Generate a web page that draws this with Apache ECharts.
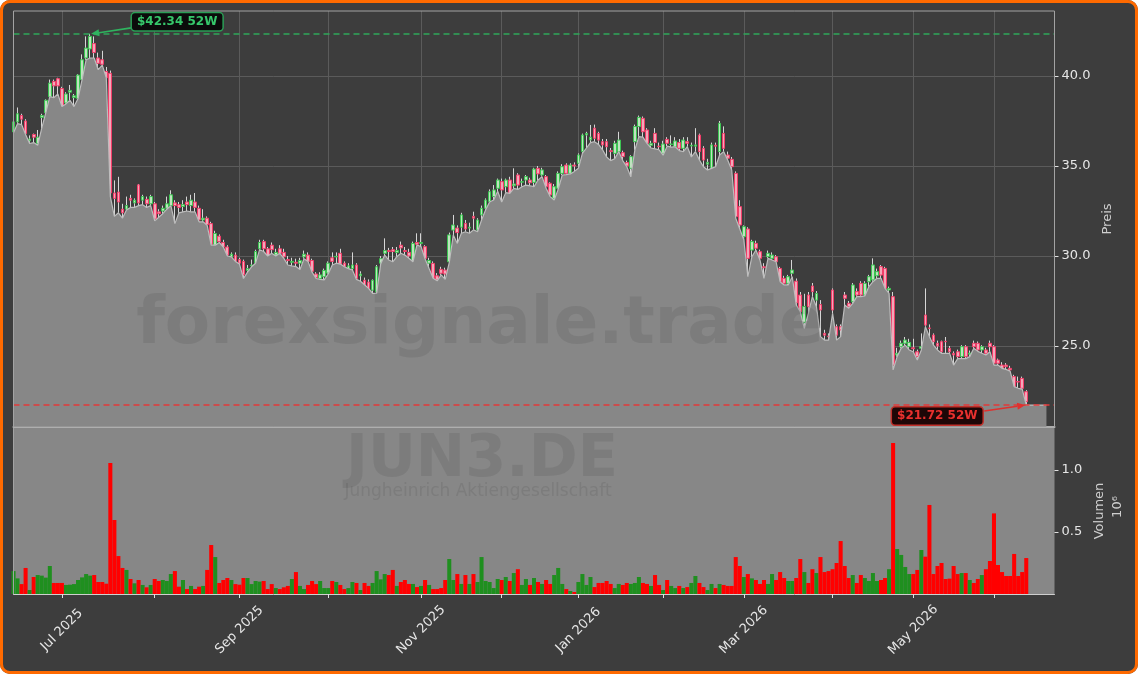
<!DOCTYPE html>
<html><head><meta charset="utf-8">
<script src="https://cdn.jsdelivr.net/npm/echarts@6/dist/echarts.min.js"></script>
<style>
html,body{margin:0;padding:0;background:#ffffff;}
#chart{position:absolute;left:0;top:0;width:1138px;height:674px;background:#3d3d3d;border-radius:10px;overflow:hidden;}
#frame{position:absolute;left:0;top:0;width:1138px;height:674px;box-sizing:border-box;border:3px solid #ff6a00;border-radius:10px;pointer-events:none;}
</style></head><body>
<div id="chart"></div><div id="frame"></div>
<script>
// ---- data ----
const opens = [36.9,37.45,37.8,37.5,36.4,36.75,36.25,37.7,37.95,38.85,
39.7,39.85,39.3,38.5,39.1,38.8,38.75,39.8,41.0,41.5,
41.8,41.0,40.9,40.25,40.15,33.5,33.55,32.6,32.6,33.2,
32.95,33.95,33.1,33.15,32.9,32.9,32.45,32.5,32.65,32.8,
32.95,32.85,32.75,33.0,32.8,33.0,32.65,32.0,32.1,31.8,
30.6,31.1,30.75,30.5,29.95,30.05,29.8,29.7,29.2,29.45,
29.6,30.4,30.8,30.4,30.6,30.05,30.4,30.2,29.8,29.65,
29.65,29.6,29.95,30.05,29.75,29.0,28.75,28.85,29.05,29.9,
29.95,30.15,29.6,29.3,29.3,29.5,28.9,28.65,28.55,28.1,
28.0,29.6,30.15,30.3,30.35,30.2,30.6,30.3,30.2,29.7,
30.75,30.7,30.52,29.6,29.59,28.9,29.26,29.22,29.68,31.44,
31.55,31.6,31.81,31.55,32.2,31.44,32.28,32.65,33.02,33.3,
33.76,34.13,33.85,34.22,33.9,34.5,34.1,34.22,34.22,34.09,
34.87,34.5,34.41,34.04,33.2,33.76,34.59,35.05,34.59,35.05,
35.15,35.8,36.72,36.45,37.1,36.81,36.35,36.35,35.85,35.7,
35.8,35.74,35.19,34.87,36.35,37.19,37.65,37.0,36.15,36.81,
36.1,35.7,36.48,36.2,36.07,36.3,35.98,36.35,36.11,36.1,
36.72,35.98,35.1,34.87,36.15,35.8,36.81,35.61,35.37,34.59,
32.74,31.07,31.5,30.33,30.7,30.24,29.4,29.96,29.87,29.96,
29.31,28.76,28.48,29.04,28.6,27.83,26.3,27.83,28.33,27.55,
27.3,25.7,25.55,28.11,26.07,26.07,27.83,27.37,27.46,28.02,
28.48,27.83,28.57,28.67,28.9,29.41,29.31,28.11,27.74,24.5,
24.96,25.15,24.96,24.9,24.68,24.87,26.72,26.0,25.61,25.15,
25.24,25.26,24.87,24.59,24.68,24.41,24.96,24.55,25.15,25.15,
24.78,24.78,25.15,24.96,24.22,23.94,23.94,23.76,23.3,23.02,
23.2,22.46];
const closes = [37.45,37.9,37.6,36.8,36.5,36.6,36.6,37.8,38.65,39.6,
39.45,39.45,38.3,39.0,39.2,38.9,40.05,40.9,41.55,42.2,
41.3,40.7,40.65,39.9,33.5,33.2,33.0,32.4,32.8,33.1,
33.1,32.95,33.3,32.9,33.3,32.05,32.35,32.65,32.9,33.4,
32.8,32.7,32.85,32.85,33.1,32.7,32.0,32.1,31.75,30.65,
31.25,30.8,30.5,30.05,30.1,29.7,29.6,28.95,29.3,29.5,
30.25,30.75,30.4,30.0,30.35,30.2,30.15,29.95,29.75,29.7,
29.6,29.75,30.1,29.7,29.15,28.8,28.95,29.2,29.6,29.7,
29.98,29.55,29.4,29.45,29.5,28.75,29.0,28.4,28.2,28.65,
29.4,29.85,30.3,30.25,30.25,30.3,30.45,30.25,30.0,30.7,
30.65,30.75,29.87,29.75,28.76,28.67,29.04,29.0,31.17,31.72,
31.3,32.28,31.5,31.6,32.1,32.0,32.65,33.11,33.57,33.67,
34.22,33.67,34.22,33.48,34.0,33.94,34.13,34.41,34.07,34.83,
34.56,34.78,33.85,33.39,33.85,34.59,34.96,34.59,35.05,35.0,
35.61,36.72,36.81,36.6,36.54,36.44,36.17,36.07,35.8,36.26,
36.44,35.52,35.0,35.52,37.19,37.7,36.9,36.26,36.26,36.3,
36.07,36.22,36.26,36.22,36.39,35.98,36.44,36.26,36.15,36.17,
35.8,35.33,35.2,36.17,36.1,37.37,35.98,35.43,34.96,32.19,
31.72,31.63,29.87,30.8,30.43,29.87,29.35,30.15,30.05,29.68,
28.57,28.48,28.85,29.22,27.4,26.9,27.2,27.18,28.02,27.92,
27.0,25.6,25.52,27.0,25.6,25.89,27.65,27.18,28.39,27.83,
27.83,28.48,28.85,29.5,29.13,28.94,28.2,28.2,23.94,24.59,
25.15,25.33,25.2,24.85,24.41,24.96,26.16,25.98,25.24,25.0,
24.68,25.24,24.68,24.5,24.41,24.96,24.41,24.6,24.96,24.78,
24.96,24.59,24.96,24.04,24.04,23.76,23.85,23.67,22.74,23.0,
22.65,21.91];
const lows = [36.85,37.35,37.3,36.75,36.25,36.3,36.15,37.1,37.95,38.85,
38.8,39.0,38.3,38.45,38.65,38.3,38.75,39.8,40.9,41.0,
41.0,40.35,40.6,39.9,33.3,32.2,32.4,32.1,32.55,32.7,
32.7,32.8,32.85,32.7,32.8,31.95,32.15,32.35,32.6,32.8,
31.8,32.4,32.45,32.5,32.45,32.45,31.9,31.9,31.7,30.6,
30.6,30.75,30.5,30.0,29.95,29.7,29.55,28.75,29.1,29.4,
29.6,30.35,30.25,30.0,30.15,30.0,30.15,29.87,29.5,29.45,
29.41,29.25,29.85,29.7,29.1,28.75,28.7,28.67,29.0,29.5,
29.6,29.55,29.4,29.3,29.22,28.7,28.6,28.4,28.2,27.92,
27.92,29.55,30.05,29.78,29.68,29.96,30.15,30.05,29.87,29.68,
30.61,30.52,29.85,29.3,28.76,28.62,28.95,28.7,29.63,31.17,
30.7,31.26,31.35,31.26,31.45,31.35,32.0,32.55,33.0,33.11,
33.6,33.0,33.52,33.48,33.76,33.7,33.85,33.94,33.9,33.85,
34.22,34.41,33.76,33.3,33.11,33.7,34.5,34.52,34.56,34.7,
34.87,35.7,36.0,36.3,36.35,36.2,35.9,35.5,35.3,35.4,
35.8,35.3,34.96,34.4,35.9,36.63,36.6,36.26,36.0,35.95,
35.9,35.6,36.1,36.05,36.07,35.85,35.8,36.07,35.5,35.8,
35.33,34.96,34.78,34.87,34.96,35.61,35.8,35.33,34.78,32.1,
31.5,30.9,28.85,29.96,30.33,29.78,28.76,29.87,29.78,29.68,
28.57,28.39,28.39,28.85,27.28,26.9,25.98,26.81,27.74,27.18,
25.52,25.33,25.33,26.81,25.33,25.52,27.28,27.1,27.37,27.74,
27.74,27.78,28.3,28.57,28.76,28.76,28.2,27.92,23.67,24.41,
24.87,25.05,24.78,24.68,24.22,24.78,26.07,25.52,25.05,24.78,
24.59,24.59,24.59,23.94,24.3,24.3,24.3,24.41,24.87,24.7,
24.6,24.5,24.68,23.94,23.94,23.76,23.7,23.6,22.74,22.65,
22.6,21.72];
const highs = [37.6,38.25,37.9,37.6,36.7,36.8,37.0,37.9,38.7,39.8,
39.8,39.9,39.4,39.1,39.5,39.0,40.1,41.2,42.2,42.34,
42.2,41.3,41.4,40.5,40.3,34.2,34.4,32.9,33.3,33.4,
33.2,34.0,33.4,33.3,33.4,33.0,32.6,32.8,33.3,33.65,
33.1,33.0,33.1,33.3,33.4,33.5,32.8,32.6,32.2,31.9,
31.4,31.2,30.9,30.6,30.2,30.2,29.9,29.8,29.5,29.8,
30.35,30.9,30.9,30.5,30.75,30.4,30.6,30.4,30.0,29.9,
29.85,29.9,30.3,30.2,29.85,29.1,29.1,29.3,29.7,30.2,
30.2,30.4,29.7,29.6,30.2,29.6,29.15,28.8,28.7,28.7,
29.5,30.0,30.98,30.45,30.5,30.5,30.8,30.5,30.4,30.8,
31.26,31.26,30.6,29.9,29.7,29.05,29.4,29.35,31.3,32.28,
31.7,32.4,32.0,31.85,32.46,32.1,32.8,33.2,33.7,33.94,
34.3,34.3,34.3,34.4,34.87,34.6,34.3,34.5,34.35,34.9,
35.0,34.9,34.5,34.1,34.0,34.7,35.1,35.15,35.15,35.2,
35.7,36.8,36.9,37.28,37.3,36.9,36.5,36.5,36.0,36.4,
36.9,35.85,35.3,35.6,37.3,37.8,37.75,37.1,36.4,37.1,
36.3,36.4,36.6,36.7,36.6,36.5,36.6,36.6,36.3,37.1,
36.8,36.1,35.4,36.3,36.3,37.5,37.2,35.8,35.5,34.7,
33.1,31.7,31.6,30.9,30.85,30.35,29.6,30.3,30.2,30.05,
29.4,28.9,28.95,29.78,28.75,28.0,27.9,28.0,28.5,28.05,
27.55,25.9,25.7,28.2,26.2,26.2,28.0,27.5,28.5,28.2,
28.6,28.6,28.95,29.87,29.3,29.5,29.4,28.3,28.0,24.9,
25.3,25.5,25.4,25.4,24.8,25.7,28.2,26.2,25.7,25.3,
25.3,25.5,25.0,24.7,24.8,25.05,25.05,24.75,25.3,25.25,
25.05,24.9,25.3,25.05,24.3,24.1,24.05,23.9,23.4,23.3,
23.3,22.55];
const volumes = [185000,126000,80000,210000,32000,137000,153000,148000,132000,226000,
89000,89000,89000,73000,75000,80000,113000,134000,161000,148000,
153000,97000,97000,83000,1056000,597000,306000,210000,194000,121000,
86000,113000,73000,54000,73000,121000,105000,113000,105000,161000,
185000,59000,113000,40000,65000,40000,59000,65000,194000,395000,
298000,89000,113000,129000,113000,80000,75000,129000,129000,80000,
105000,100000,105000,40000,80000,48000,40000,54000,65000,121000,
177000,65000,40000,73000,105000,80000,105000,48000,48000,105000,
97000,73000,40000,48000,97000,89000,32000,89000,65000,89000,
185000,118000,161000,153000,194000,65000,97000,113000,81000,81000,
56000,65000,113000,73000,40000,40000,48000,113000,282000,113000,
161000,81000,153000,81000,161000,97000,298000,105000,97000,48000,
121000,113000,137000,105000,169000,200000,73000,121000,73000,129000,
97000,81000,113000,81000,153000,210000,81000,40000,24000,16000,
97000,161000,73000,137000,56000,89000,89000,105000,81000,48000,
81000,73000,89000,81000,89000,137000,89000,81000,65000,153000,
73000,32000,113000,65000,48000,65000,48000,56000,89000,145000,
89000,56000,32000,81000,48000,81000,73000,65000,65000,298000,
226000,137000,161000,126000,113000,81000,113000,81000,161000,113000,
177000,129000,105000,105000,129000,282000,177000,89000,200000,169000,
298000,177000,185000,200000,250000,427000,226000,129000,153000,89000,
153000,129000,105000,169000,105000,113000,129000,200000,1218000,363000,
315000,218000,161000,161000,194000,355000,301000,718000,161000,226000,
250000,121000,124000,226000,161000,169000,169000,113000,89000,121000,
153000,200000,266000,650000,234000,177000,145000,145000,323000,145000,
177000,290000];
const priceTicks = [25, 30, 35, 40];
const volumeTicks = [500000, 1000000];
const high52 = 42.34;
const low52 = 21.72;
const holidays = ['2025-12-24','2025-12-25','2025-12-26','2025-12-31','2026-01-01','2026-04-03','2026-04-06','2026-05-01'];
const monthNames = ['Jan','Feb','Mar','Apr','May','Jun','Jul','Aug','Sep','Oct','Nov','Dec'];

// trading-day categories (Xetra calendar), a few empty days of room at the right
const dates = [];
(function(){
  let t = Date.UTC(2025, 5, 13);
  while (dates.length < closes.length + 7) {
    const d = new Date(t);
    const wd = d.getUTCDay();
    const s = d.toISOString().slice(0, 10);
    if (wd !== 0 && wd !== 6 && holidays.indexOf(s) < 0) dates.push(s);
    t += 86400000;
  }
})();

const isMonthStart = (i) => i > 0 && dates[i].slice(0, 7) !== dates[i - 1].slice(0, 7);
const isLabelMonth = (i) => isMonthStart(i) && (parseInt(dates[i].slice(5, 7), 10) % 2 === 1);

const FONT = 'DejaVu Sans';
const lastLow = lows[lows.length - 1];
const fillLine = lows.concat([lastLow, lastLow, lastLow, lastLow, lastLow]);
const wickData = opens.map((o, i) => [o, closes[i], lows[i], highs[i]]);
const bodyData = opens.map((o, i) => [o, closes[i], Math.min(o, closes[i]), Math.max(o, closes[i])]);
const volData = volumes.map((v, i) => ({ value: v, itemStyle: { color: closes[i] >= opens[i] ? '#1f8f1f' : '#ff0000' } }));

const G = { left: 13.5, top: 11, width: 1041, height: 416 };
const GV = { left: 13.5, top: 428, width: 1041, height: 166 };

const chart = echarts.init(document.getElementById('chart'));
const option = {
  animation: false,
  backgroundColor: 'transparent',
  textStyle: { fontFamily: FONT },
  grid: [
    { left: G.left, top: G.top, width: G.width, height: G.height, show: false },
    { left: GV.left, top: GV.top, width: GV.width, height: GV.height, show: true, backgroundColor: '#878787', borderWidth: 0 }
  ],
  xAxis: [
    { type: 'category', gridIndex: 0, data: dates, boundaryGap: false,
      axisLine: { show: true, lineStyle: { color: '#b9b9b9', width: 2 } },
      axisTick: { show: false }, axisLabel: { show: false },
      splitLine: { show: true, interval: (i) => isMonthStart(i), lineStyle: { color: '#5b5b5b', width: 1 } } },
    { type: 'category', gridIndex: 1, data: dates, boundaryGap: false,
      axisLine: { show: true, lineStyle: { color: '#cfcfcf', width: 1 } },
      axisTick: { show: true, interval: (i) => isMonthStart(i), length: 4, lineStyle: { color: '#e0e0e0' } },
      axisLabel: { show: true, interval: (i) => isLabelMonth(i), rotate: 45, align: 'center', verticalAlign: 'middle', margin: 36,
        color: '#e6e6e6', fontSize: 13, fontFamily: FONT,
        formatter: (v) => monthNames[parseInt(v.slice(5, 7), 10) - 1] + ' ' + v.slice(0, 4) },
      splitLine: { show: false } }
  ],
  yAxis: [
    { type: 'value', gridIndex: 0, position: 'right', min: 20.5, max: 43.61, scale: true,
      axisLine: { show: false },
      axisTick: { show: true, customValues: priceTicks, length: 4, lineStyle: { color: '#e0e0e0' } },
      axisLabel: { show: true, customValues: priceTicks, formatter: (v) => v.toFixed(1), color: '#e6e6e6', fontSize: 13, fontFamily: FONT, margin: 7 },
      splitLine: { show: true, lineStyle: { color: '#5b5b5b', width: 1 } },
      name: 'Preis', nameLocation: 'middle', nameGap: 45, nameRotate: 90,
      nameTextStyle: { color: '#cfcfcf', fontSize: 13, fontFamily: FONT } },
    { type: 'value', gridIndex: 1, position: 'right', min: 0, max: 1338700,
      axisLine: { show: false },
      axisTick: { show: true, customValues: volumeTicks, length: 4, lineStyle: { color: '#e0e0e0' } },
      axisLabel: { show: true, customValues: volumeTicks, formatter: (v) => (v / 1e6).toFixed(1), color: '#e6e6e6', fontSize: 13, fontFamily: FONT, margin: 7 },
      splitLine: { show: false },
      name: 'Volumen', nameLocation: 'middle', nameGap: 36, nameRotate: 90,
      nameTextStyle: { color: '#cfcfcf', fontSize: 13, fontFamily: FONT } }
  ],
  series: [
    { type: 'line', xAxisIndex: 0, yAxisIndex: 0, data: fillLine, symbol: 'none', silent: true,
      lineStyle: { color: '#bdbdbd', width: 1.2 },
      areaStyle: { color: '#878787', opacity: 1 },
      markLine: { silent: true, symbol: 'none', label: { show: false },
        data: [
          { yAxis: high52, lineStyle: { color: '#2fa85a', width: 1.5, type: [6, 4] } },
          { yAxis: low52, lineStyle: { color: '#e23a3a', width: 1.5, type: [6, 4] } }
        ] } },
    { type: 'candlestick', xAxisIndex: 0, yAxisIndex: 0, data: wickData, barWidth: 1, silent: true,
      itemStyle: { color: '#d6d6d6', color0: '#d6d6d6', borderColor: '#d6d6d6', borderColor0: '#d6d6d6', borderColorDoji: '#d6d6d6', borderWidth: 1 } },
    { type: 'candlestick', xAxisIndex: 0, yAxisIndex: 0, data: bodyData, barWidth: 3.2, silent: true,
      itemStyle: { color: '#bfe3bf', color0: '#f3a8b9', borderColor: '#3cc552', borderColor0: '#f23d69', borderColorDoji: '#d6d6d6', borderWidth: 1 } },
    { type: 'bar', xAxisIndex: 1, yAxisIndex: 1, data: volData, barWidth: '100%', barCategoryGap: '0%', silent: true }
  ]
};
chart.setOption(option);

// annotations placed through the chart's own scales
let hiIdx = 0, loIdx = 0;
highs.forEach((h, i) => { if (h > highs[hiIdx]) hiIdx = i; });
lows.forEach((l, i) => { if (l < lows[loIdx]) loIdx = i; });
const hp = chart.convertToPixel({ gridIndex: 0 }, [hiIdx, high52]);
const lp = chart.convertToPixel({ gridIndex: 0 }, [loIdx, low52]);

function arrow(x1, y1, x2, y2, color) {
  const a = Math.atan2(y2 - y1, x2 - x1), L = 8, W = 3.5;
  const bx = x2 - L * Math.cos(a), by = y2 - L * Math.sin(a);
  return [
    { type: 'line', z: 120, shape: { x1: x1, y1: y1, x2: bx, y2: by }, style: { stroke: color, lineWidth: 1.6 } },
    { type: 'polygon', z: 120, shape: { points: [[x2, y2], [bx + W * Math.sin(a), by - W * Math.cos(a)], [bx - W * Math.sin(a), by + W * Math.cos(a)]] }, style: { fill: color } }
  ];
}

const wm = 'rgba(55,55,55,0.13)';
const graphics = [
  { type: 'text', z: 50, silent: true, x: 480, y: 326, style: { text: 'forexsignale.trade', font: 'bold 66px "DejaVu Sans"', fill: wm, align: 'center', verticalAlign: 'middle' } },
  { type: 'text', z: 50, silent: true, x: 482, y: 461, style: { text: 'JUN3.DE', font: 'bold 59px "DejaVu Sans"', fill: wm, align: 'center', verticalAlign: 'middle' } },
  { type: 'text', z: 50, silent: true, x: 478, y: 492, style: { text: 'Jungheinrich Aktiengesellschaft', font: '17px "DejaVu Sans"', fill: wm, align: 'center', verticalAlign: 'middle' } },
  { type: 'rect', z: 110, silent: true, shape: { x: G.left, y: G.top, width: G.width, height: G.height }, style: { fill: 'none', stroke: '#a3a3a3', lineWidth: 1 } },
  { type: 'line', z: 110, silent: true, shape: { x1: GV.left, y1: GV.top, x2: GV.left, y2: GV.top + GV.height }, style: { stroke: '#a3a3a3', lineWidth: 1 } },
  { type: 'text', z: 110, silent: true, x: 1118, y: 507, rotation: Math.PI / 2, style: { text: '10⁶', font: '13px "DejaVu Sans"', fill: '#cfcfcf', align: 'center', verticalAlign: 'middle' } },
  { type: 'text', z: 130, silent: true, x: hp[0] + 87, y: hp[1] - 12,
    style: { text: '$' + high52.toFixed(2) + ' 52W', font: 'bold 12px "DejaVu Sans"', fill: '#36c76b', align: 'center', verticalAlign: 'middle',
      backgroundColor: '#0b0b0b', borderColor: '#2a9d55', borderWidth: 1.5, borderRadius: 3, padding: [3, 5, 2, 5] } },
  { type: 'text', z: 130, silent: true, x: lp[0] - 89, y: lp[1] + 11,
    style: { text: '$' + low52.toFixed(2) + ' 52W', font: 'bold 12px "DejaVu Sans"', fill: '#e8302e', align: 'center', verticalAlign: 'middle',
      backgroundColor: '#1e0707', borderColor: '#c0302a', borderWidth: 1.5, borderRadius: 3, padding: [3, 5, 2, 5] } }
].concat(arrow(hp[0] + 41, hp[1] - 6, hp[0] + 1, hp[1], '#2fb35f'))
 .concat(arrow(lp[0] - 42, lp[1] + 6, lp[0] - 1, lp[1], '#e0302e'));

chart.setOption({ graphic: { elements: graphics } });
</script>
</body></html>
